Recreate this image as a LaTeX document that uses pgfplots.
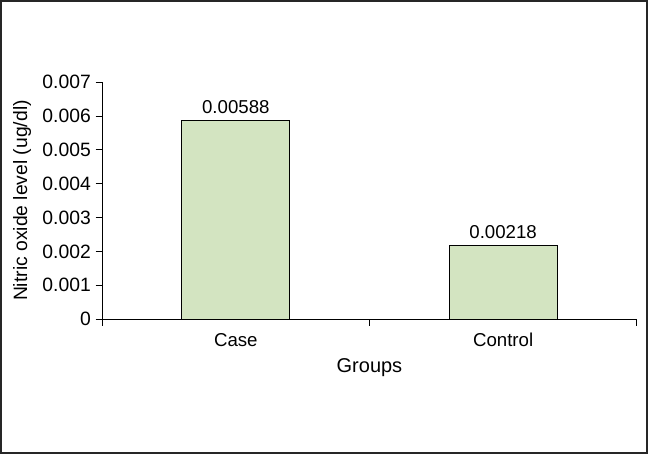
\documentclass[border=0pt]{standalone}
\usepackage{pgfplots}
\pgfplotsset{compat=1.18}
\usepackage{fontspec}
\setmainfont{Liberation Sans}
\definecolor{barfill}{RGB}{211,228,193}
\begin{document}
\begin{tikzpicture}
% outer frame, 648x454 px at 0.75pt per px
\draw[line width=1.5pt, black!85] (0.56pt,0.56pt) rectangle (485.44pt,339.94pt);
\begin{axis}[
  at={(76.5pt,101.25pt)}, anchor=south west,
  scale only axis,
  width=401.25pt, height=177.75pt,
  font=\fontsize{14}{16}\selectfont,
  axis lines*=left,
  axis line style={black, line width=0.6pt},
  xmin=-0.5, xmax=1.5,
  ymin=0, ymax=0.007,
  ytick={0,0.001,...,0.007},
  yticklabels={0,0.001,0.002,0.003,0.004,0.005,0.006,0.007},
  yticklabel style={font=\fontsize{14.5}{16}\selectfont},
  xtick={-0.5,0.5,1.5},
  xticklabels={},
  extra x ticks={0,1},
  extra x tick labels={Case,Control},
  extra x tick style={major tick length=0pt, xticklabel style={yshift=-7pt}},
  tick align=outside,
  major tick length=5pt,
  tick style={black, line width=0.6pt},
  scaled y ticks=false,
  /pgf/number format/assume math mode=true,
  ylabel={Nitric oxide level (ug/dl)},
  xlabel={Groups},
  ylabel style={at={([xshift=-60pt]axis description cs:0,0.5)}, anchor=center, rotate=0, font=\fontsize{14.5}{16}\selectfont},
  xlabel style={at={([yshift=-36.75pt]axis description cs:0.5,0)}, anchor=center, font=\fontsize{15}{17}\selectfont},
  ybar, bar width=81pt,
  nodes near coords,
  point meta=explicit symbolic,
  every node near coord/.append style={font=\fontsize{14}{16}\selectfont, yshift=1pt},
]
\addplot[fill=barfill, draw=black, line width=0.6pt]
  coordinates {(0,0.00588) [0.00588] (1,0.00218) [0.00218]};
\end{axis}
\end{tikzpicture}
\end{document}
